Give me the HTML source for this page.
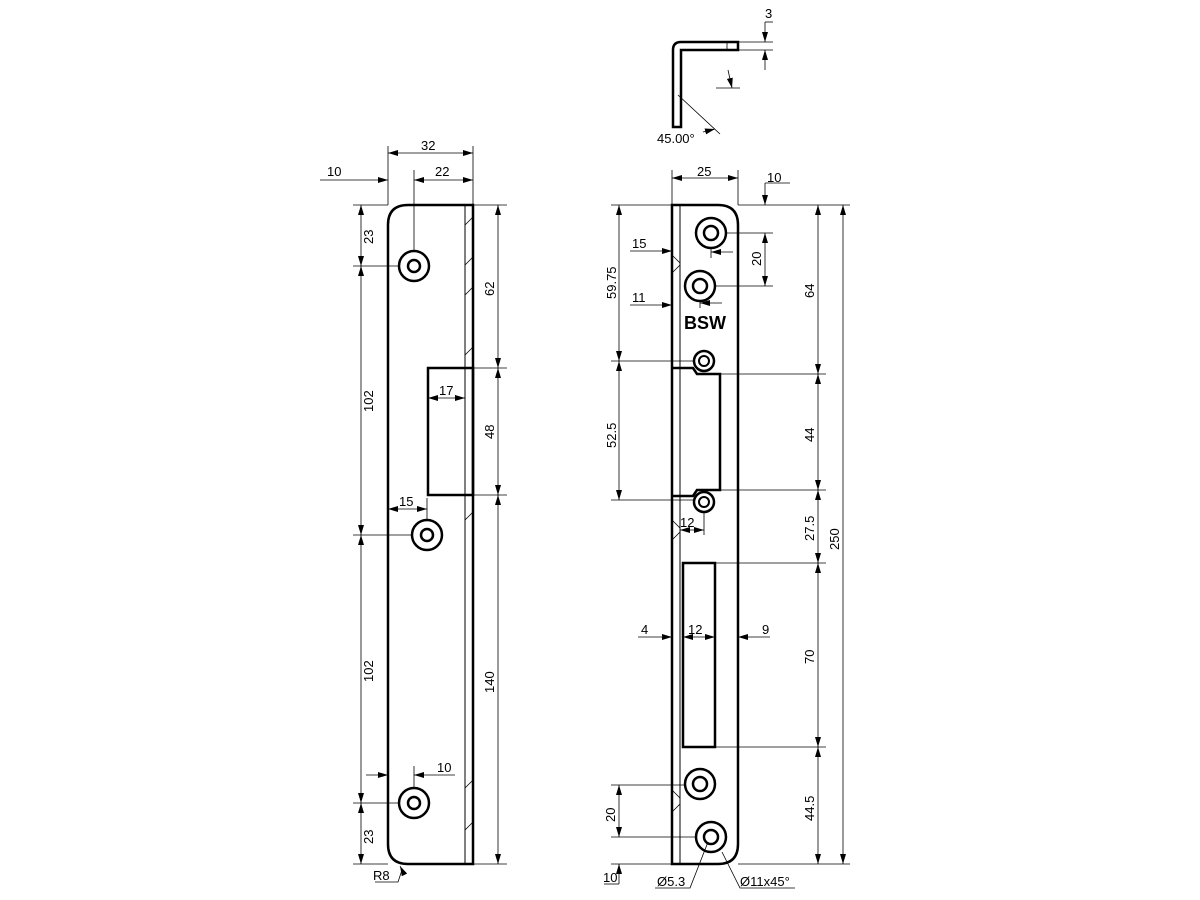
<!DOCTYPE html>
<html><head><meta charset="utf-8"><style>html,body{margin:0;padding:0;background:#fff}svg{display:block}text{font-family:"Liberation Sans",sans-serif;font-size:13px;fill:#000}</style></head><body>
<svg width="1200" height="900" viewBox="0 0 1200 900" xmlns="http://www.w3.org/2000/svg">
<defs>
<marker id="a" viewBox="0 0 10 6" refX="10" refY="3" markerWidth="10" markerHeight="6" orient="auto-start-reverse" markerUnits="userSpaceOnUse"><path d="M0,0 L10,3 L0,6z" fill="#000"/></marker>
</defs>
<g fill="none" stroke="#000">
<path d="M473,205 L408,205 Q388,205 388,225 L388,844 Q388,864 408,864 L473,864 Z" stroke-width="2.5"/>
<line x1="465" y1="205" x2="465" y2="864" stroke-width="1"/>
<path d="M465,225 l8,-8 M465,265 l8,-8 M465,295 l8,-8 M465,355 l8,-8 M465,520 l8,-8 M465,788 l8,-8 M465,830 l8,-8" stroke-width="0.8"/>
<rect x="428" y="368" width="45" height="127" stroke-width="2.5"/>
<circle cx="414" cy="266" r="15" stroke-width="2.5"/><circle cx="414" cy="266" r="6" stroke-width="2.5"/>
<circle cx="427" cy="535" r="15" stroke-width="2.5"/><circle cx="427" cy="535" r="6" stroke-width="2.5"/>
<circle cx="414" cy="803" r="15" stroke-width="2.5"/><circle cx="414" cy="803" r="6" stroke-width="2.5"/>
<g stroke-width="0.8">
<line x1="388" y1="205" x2="388" y2="146"/><line x1="473" y1="205" x2="473" y2="146"/>
<line x1="388" y1="153" x2="473" y2="153" marker-start="url(#a)" marker-end="url(#a)"/>
<line x1="320" y1="180" x2="388" y2="180" marker-end="url(#a)"/>
<line x1="414" y1="251" x2="414" y2="170"/>
<line x1="414" y1="180" x2="473" y2="180" marker-start="url(#a)" marker-end="url(#a)"/>
<line x1="353" y1="205" x2="388" y2="205"/>
<line x1="353" y1="266" x2="399" y2="266"/><line x1="353" y1="535" x2="412" y2="535"/><line x1="353" y1="803" x2="399" y2="803"/>
<line x1="353" y1="864" x2="388" y2="864"/>
<line x1="361" y1="205" x2="361" y2="266" marker-start="url(#a)" marker-end="url(#a)"/>
<line x1="361" y1="266" x2="361" y2="535" marker-start="url(#a)" marker-end="url(#a)"/>
<line x1="361" y1="535" x2="361" y2="803" marker-start="url(#a)" marker-end="url(#a)"/>
<line x1="361" y1="803" x2="361" y2="864" marker-start="url(#a)" marker-end="url(#a)"/>
<line x1="473" y1="205" x2="507" y2="205"/><line x1="473" y1="368" x2="507" y2="368"/><line x1="473" y1="495" x2="507" y2="495"/><line x1="473" y1="864" x2="507" y2="864"/>
<line x1="498" y1="205" x2="498" y2="368" marker-start="url(#a)" marker-end="url(#a)"/>
<line x1="498" y1="368" x2="498" y2="495" marker-start="url(#a)" marker-end="url(#a)"/>
<line x1="498" y1="495" x2="498" y2="864" marker-start="url(#a)" marker-end="url(#a)"/>
<line x1="428" y1="398" x2="465" y2="398" marker-start="url(#a)" marker-end="url(#a)"/>
<line x1="427" y1="520" x2="427" y2="498"/>
<line x1="388" y1="509" x2="427" y2="509" marker-start="url(#a)" marker-end="url(#a)"/>
<line x1="366" y1="775" x2="388" y2="775" marker-end="url(#a)"/>
<line x1="414" y1="788" x2="414" y2="766"/>
<line x1="455" y1="775" x2="414" y2="775" marker-end="url(#a)"/>
<path d="M375,882 L398,882 L402,870" /><line x1="402" y1="870" x2="400" y2="866" marker-end="url(#a)"/>
</g>
<path d="M672,205 L718,205 Q738,205 738,225 L738,844 Q738,864 718,864 L672,864 Z" stroke-width="2.5"/>
<line x1="680" y1="205" x2="680" y2="864" stroke-width="1"/>
<path d="M672,255 l8,8 M672,273 l8,-8 M672,520 l8,8 M672,540 l8,-8 M672,790 l8,8 M672,812 l8,-8" stroke-width="0.8"/>
<path d="M672,368 L693,368 L697,374 L720,374 L720,490 L697,490 L693,496 L672,496" stroke-width="2.5"/>
<rect x="683" y="563" width="32" height="184" stroke-width="2.5"/>
<circle cx="711" cy="233" r="15" stroke-width="2.5"/><circle cx="711" cy="233" r="7" stroke-width="2.5"/>
<circle cx="700" cy="286" r="15" stroke-width="2.5"/><circle cx="700" cy="286" r="7" stroke-width="2.5"/>
<circle cx="704" cy="361" r="10" stroke-width="2.5"/><circle cx="704" cy="361" r="5" stroke-width="2"/>
<circle cx="704" cy="502" r="10" stroke-width="2.5"/><circle cx="704" cy="502" r="5" stroke-width="2"/>
<circle cx="700" cy="784" r="15" stroke-width="2.5"/><circle cx="700" cy="784" r="7" stroke-width="2.5"/>
<circle cx="711" cy="837" r="15" stroke-width="2.5"/><circle cx="711" cy="837" r="7" stroke-width="2.5"/>
<g stroke-width="0.8">
<line x1="672" y1="205" x2="672" y2="170"/><line x1="738" y1="205" x2="738" y2="170"/>
<line x1="672" y1="178" x2="738" y2="178" marker-start="url(#a)" marker-end="url(#a)"/>
<line x1="738" y1="205" x2="850" y2="205"/>
<path d="M765,183 L765,205" marker-end="url(#a)"/><line x1="765" y1="183" x2="790" y2="183"/>
<line x1="611" y1="205" x2="672" y2="205"/>
<line x1="611" y1="361" x2="694" y2="361"/><line x1="611" y1="500" x2="694" y2="500"/>
<line x1="619" y1="205" x2="619" y2="361" marker-start="url(#a)" marker-end="url(#a)"/>
<line x1="619" y1="361" x2="619" y2="500" marker-start="url(#a)" marker-end="url(#a)"/>
<line x1="726" y1="233" x2="773" y2="233"/><line x1="715" y1="286" x2="773" y2="286"/>
<line x1="765" y1="233" x2="765" y2="286" marker-start="url(#a)" marker-end="url(#a)"/>
<line x1="711" y1="247" x2="711" y2="258"/><line x1="733" y1="252" x2="711" y2="252" marker-end="url(#a)"/>
<line x1="700" y1="300" x2="700" y2="308"/><line x1="722" y1="303" x2="700" y2="303" marker-end="url(#a)"/>
<line x1="630" y1="251" x2="672" y2="251" marker-end="url(#a)"/>
<line x1="630" y1="305" x2="672" y2="305" marker-end="url(#a)"/>
<line x1="720" y1="374" x2="826" y2="374"/><line x1="720" y1="490" x2="826" y2="490"/>
<line x1="715" y1="563" x2="826" y2="563"/><line x1="715" y1="747" x2="826" y2="747"/>
<line x1="738" y1="864" x2="850" y2="864"/>
<line x1="818" y1="205" x2="818" y2="374" marker-start="url(#a)" marker-end="url(#a)"/>
<line x1="818" y1="374" x2="818" y2="490" marker-start="url(#a)" marker-end="url(#a)"/>
<line x1="818" y1="490" x2="818" y2="563" marker-start="url(#a)" marker-end="url(#a)"/>
<line x1="818" y1="563" x2="818" y2="747" marker-start="url(#a)" marker-end="url(#a)"/>
<line x1="818" y1="747" x2="818" y2="864" marker-start="url(#a)" marker-end="url(#a)"/>
<line x1="843" y1="205" x2="843" y2="864" marker-start="url(#a)" marker-end="url(#a)"/>
<line x1="704" y1="512" x2="704" y2="535"/>
<line x1="680" y1="530" x2="704" y2="530" marker-start="url(#a)" marker-end="url(#a)"/>
<line x1="638" y1="637" x2="672" y2="637" marker-end="url(#a)"/>
<line x1="683" y1="637" x2="715" y2="637" marker-start="url(#a)" marker-end="url(#a)"/>
<line x1="770" y1="637" x2="738" y2="637" marker-end="url(#a)"/>
<line x1="611" y1="785" x2="685" y2="785"/><line x1="611" y1="837" x2="696" y2="837"/>
<line x1="619" y1="785" x2="619" y2="837" marker-start="url(#a)" marker-end="url(#a)"/>
<line x1="611" y1="864" x2="672" y2="864"/>
<line x1="619" y1="884" x2="619" y2="864" marker-end="url(#a)"/><line x1="604" y1="884" x2="619" y2="884"/>
<path d="M655,888 L690,888 L708,842"/>
<path d="M795,888 L740,888 L722,852"/>
</g>
<path d="M673,127 L673,50 Q673,42 681,42 L738,42 L738,50 L681,50 L681,127 Z" stroke-width="2.5"/>
<line x1="727" y1="42" x2="727" y2="50" stroke-width="0.8"/>
<g stroke-width="0.8">
<line x1="738" y1="42" x2="773" y2="42"/><line x1="738" y1="50" x2="773" y2="50"/>
<line x1="765" y1="22" x2="765" y2="42" marker-end="url(#a)"/><line x1="765" y1="22" x2="773" y2="22"/>
<line x1="765" y1="70" x2="765" y2="50" marker-end="url(#a)"/>
<line x1="716" y1="88" x2="740" y2="88"/><line x1="728" y1="70" x2="732" y2="88" marker-end="url(#a)"/>
<line x1="678" y1="95" x2="720" y2="134"/>
<line x1="703" y1="132" x2="715" y2="129" marker-end="url(#a)"/>
</g>
</g>
<text x="327" y="176">10</text>
<text x="421" y="150">32</text>
<text x="435" y="176">22</text>
<text x="373" y="244" transform="rotate(-90 373 244)">23</text>
<text x="373" y="412" transform="rotate(-90 373 412)">102</text>
<text x="373" y="682" transform="rotate(-90 373 682)">102</text>
<text x="373" y="844" transform="rotate(-90 373 844)">23</text>
<text x="494" y="296" transform="rotate(-90 494 296)">62</text>
<text x="494" y="439" transform="rotate(-90 494 439)">48</text>
<text x="494" y="693" transform="rotate(-90 494 693)">140</text>
<text x="439" y="395">17</text>
<text x="399" y="506">15</text>
<text x="437" y="772">10</text>
<text x="373" y="880">R8</text>
<text x="697" y="176">25</text>
<text x="767" y="182">10</text>
<text x="632" y="248">15</text>
<text x="632" y="302">11</text>
<text x="616" y="299" transform="rotate(-90 616 299)">59.75</text>
<text x="616" y="448" transform="rotate(-90 616 448)">52.5</text>
<text x="761" y="266" transform="rotate(-90 761 266)">20</text>
<text x="684" y="329" style="font-size:18px;font-weight:bold">BSW</text>
<text x="814" y="298" transform="rotate(-90 814 298)">64</text>
<text x="814" y="442" transform="rotate(-90 814 442)">44</text>
<text x="814" y="541" transform="rotate(-90 814 541)">27.5</text>
<text x="814" y="664" transform="rotate(-90 814 664)">70</text>
<text x="814" y="821" transform="rotate(-90 814 821)">44.5</text>
<text x="839" y="550" transform="rotate(-90 839 550)">250</text>
<text x="680" y="527">12</text>
<text x="641" y="634">4</text>
<text x="688" y="634">12</text>
<text x="762" y="634">9</text>
<text x="615" y="822" transform="rotate(-90 615 822)">20</text>
<text x="603" y="882">10</text>
<text x="657" y="886">Ø5.3</text>
<text x="740" y="886">Ø11x45°</text>
<text x="765" y="18">3</text>
<text x="657" y="143">45.00°</text>
</svg>
</body></html>
